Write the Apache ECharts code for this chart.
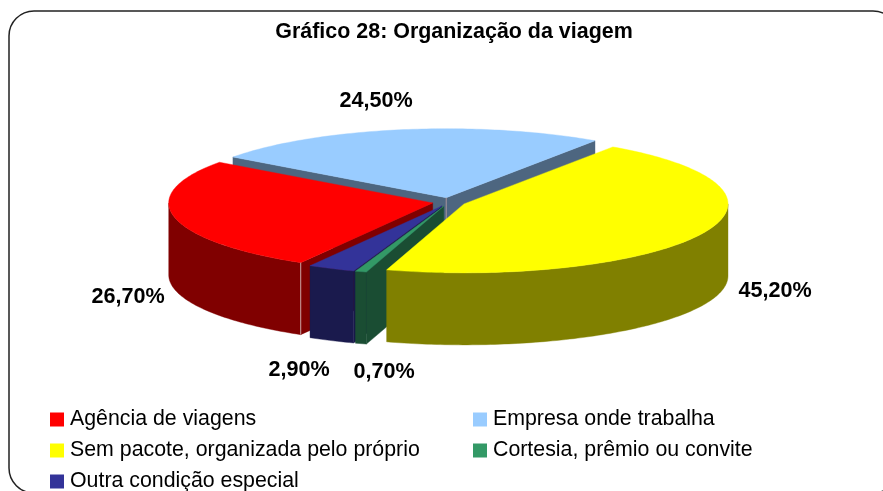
<!DOCTYPE html>
<html>
<head>
<meta charset="utf-8">
<style>html,body{margin:0;padding:0;background:#fff}#c{width:883px;height:491px}</style>
<script src="https://cdn.jsdelivr.net/npm/echarts@6/dist/echarts.min.js"></script>
</head>
<body>
<div id="c"></div>
<script>
const categories = ['Agência de viagens','Empresa onde trabalha','Sem pacote, organizada pelo próprio','Cortesia, prêmio ou convite','Outra condição especial'];
const values = [26.7,24.5,45.2,0.7,2.9];
const topColors = ['#ff0000','#99ccff','#ffff00','#339966','#333399'];
const sideColors = ['#800000','#4d6680','#808000','#1a4d33','#1a1a4d'];
const paintRank = [2,1,5,4,3];
const labelAnchors = [[128,297],[376,101],[775,291],[384,372],[299,370]];

const pie = {cx:449, cy:202, rx:264, ry:69, depth:72, explode:0.063, firstAngle:210};
const total = values.reduce((a,b)=>a+b,0);
const RAD = Math.PI/180;
const FONT = '"Liberation Sans", Arial, sans-serif';

function sliceRange(i){
  let a = pie.firstAngle;
  for(let k=0;k<i;k++) a += values[k]/total*360;
  return [a, a + values[i]/total*360];
}
function renderSlice(i){
  return function(params, api){
    const val = api.value(0);
    const [a0,a1] = sliceRange(i);
    const mid = (a0+a1)/2*RAD;
    const ox = pie.cx + pie.explode*Math.sin(mid)*pie.rx;
    const oy = pie.cy - pie.explode*Math.cos(mid)*pie.ry;
    const pt = a => [ox+Math.sin(a*RAD)*pie.rx, oy-Math.cos(a*RAD)*pie.ry];
    const down = p => [p[0], p[1]+pie.depth];
    const arc = (s,e) => { const r=[]; const n=Math.max(2,Math.ceil(Math.abs(e-s)));
      for(let k=0;k<=n;k++) r.push(pt(s+(e-s)*k/n)); return r; };
    const side = sideColors[i], children=[];
    const poly = (points,fill) => children.push({type:'polygon',shape:{points},style:{fill,stroke:fill,lineWidth:0.4}});
    const cut = a => { const p=pt(a); poly([[ox,oy],p,down(p),[ox,oy+pie.depth]],side); };
    if(Math.sin(a0*RAD)<0) cut(a0);
    if(Math.sin(a1*RAD)>0) cut(a1);
    for(const [lo,hi] of [[90,270],[450,630]]){
      const s=Math.max(a0,lo), e=Math.min(a1,hi);
      if(e>s){ const top=arc(s,e); poly(top.concat(top.map(down).reverse()),side); }
    }
    poly([[ox,oy]].concat(arc(a0,a1)),topColors[i]);
    if(i===0||i===1){
      const p = i===0 ? pt(a0) : [ox,oy];
      children.push({type:'line',shape:{x1:p[0],y1:p[1],x2:p[0],y2:p[1]+pie.depth},
        style:{stroke:'#c9a0a0',lineWidth:1,opacity:i===0?1:0.7}});
    }
    const la = labelAnchors[i];
    children.push({type:'text',z2:50,style:{
      text: val.toFixed(2).replace('.',',')+'%', x:la[0], y:la[1],
      fill:'#000', font:'bold 21.6px '+FONT,
      textAlign:'center', textVerticalAlign:'middle'}});
    return {type:'group',children};
  };
}
const legendCommon = {orient:'vertical',itemWidth:14,itemHeight:14,itemGap:10,icon:'rect',selectedMode:false,
  top:409,height:200,padding:0};
const legendText = {color:'#000',fontSize:21.33,fontFamily:FONT,padding:[0,0,0,1]};
const chart = echarts.init(document.getElementById('c'),null,{renderer:'canvas'});
chart.setOption({
  animation:false,
  backgroundColor:'#fff',
  title:{text:'Gráfico 28: Organização da viagem',left:449,top:17,textAlign:'center',
    textStyle:{color:'#000',fontSize:21.45,fontWeight:'bold',fontFamily:FONT}},
  legend:[
    Object.assign({left:50,data:[categories[0],categories[2],categories[4]],textStyle:legendText},legendCommon),
    Object.assign({left:473,data:[categories[1],categories[3]],textStyle:legendText},legendCommon)
  ],
  graphic:[{type:'rect',shape:{x:9,y:11,width:889,height:482,r:25},
    style:{fill:'none',stroke:'#222',lineWidth:1.5},silent:true}],
  series:categories.map((name,i)=>({
    type:'custom',name,coordinateSystem:'none',z:paintRank[i]+1,
    itemStyle:{color:topColors[i]},
    data:[[values[i]]],
    renderItem:renderSlice(i)
  }))
});
</script>
</body>
</html>
